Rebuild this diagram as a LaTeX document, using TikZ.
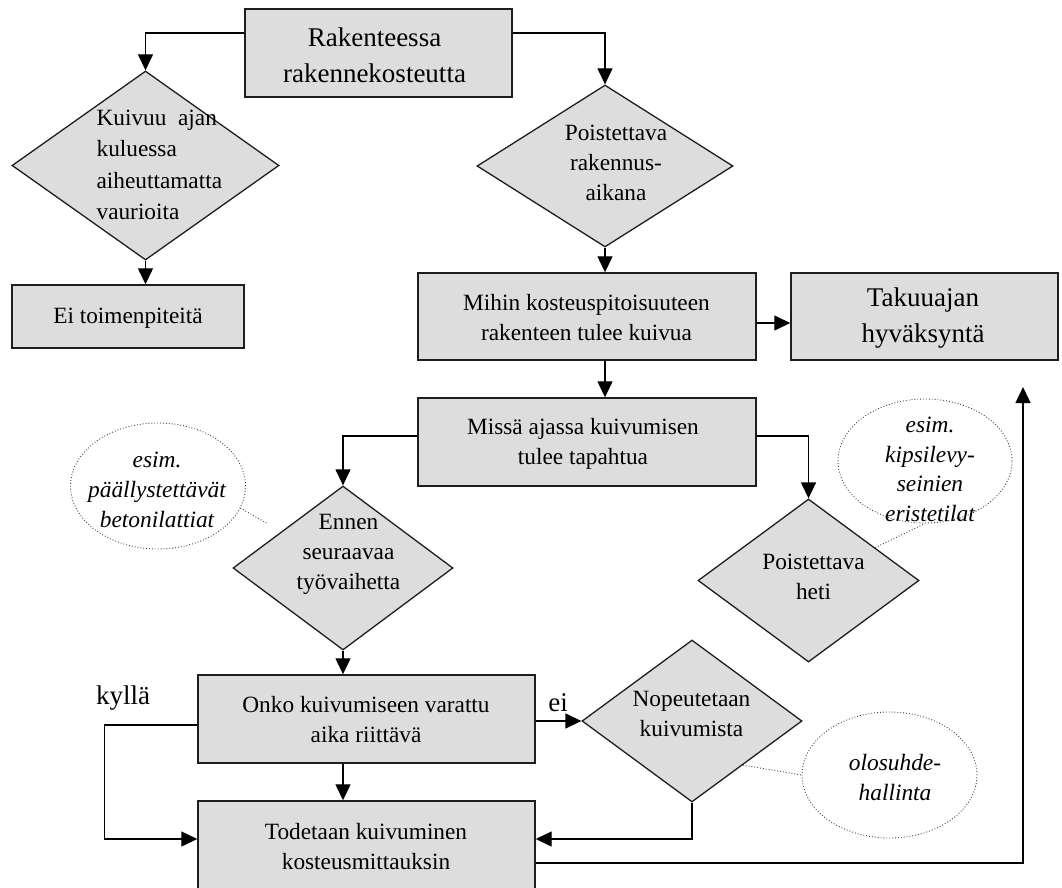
\documentclass[tikz,border=0pt]{standalone}
\usepackage{fontspec}
\setmainfont{Liberation Serif}
\usetikzlibrary{shapes.geometric,arrows.meta,calc}
\definecolor{boxfill}{RGB}{221,221,221}
\definecolor{edgecol}{RGB}{30,30,30}
\begin{document}
\begin{tikzpicture}[x=1pt,y=-1pt,
  box/.style={draw=edgecol, fill=boxfill, line width=1.4pt, rectangle, inner sep=0pt},
  dia/.style={draw=edgecol, fill=boxfill, line width=1.3pt, diamond, inner sep=0pt},
  ell/.style={draw=black!75, dotted, line width=0.9pt, ellipse, inner sep=0pt},
  txt/.style={align=center, inner sep=0pt, font=\fontsize{23.3}{30}\selectfont},
  bigtxt/.style={align=center, inner sep=0pt, font=\fontsize{27}{36}\selectfont},
  itx/.style={align=center, inner sep=0pt, font=\fontsize{23.4}{29.7}\selectfont\itshape},
  arr/.style={draw=black, line width=1.3pt, -{Triangle[length=16pt,width=15pt]}},
  note/.style={draw=black!75, dotted, line width=0.9pt}
]
\useasboundingbox (0,0) rectangle (1062,888);
\clip (0,0) rectangle (1062,888);

% boxes
\node[box, minimum width=267, minimum height=88] (top) at (378.5,53) {};
\node[bigtxt] (toptx) at (374.5,55) {Rakenteessa\\rakennekosteutta};
\node[box, minimum width=232, minimum height=63] (eit) at (128,316.5) {};
\node[txt] (eittx) at (128,318) {Ei toimenpiteitä};
\node[box, minimum width=338, minimum height=87] (mihin) at (587,316.5) {};
\node[txt] (mihintx) at (586.5,318) {Mihin kosteuspitoisuuteen\\rakenteen tulee kuivua};
\node[box, minimum width=267, minimum height=87] (taku) at (924.5,316.5) {};
\node[bigtxt] (takutx) at (923,318) {Takuuajan\\hyväksyntä};
\node[box, minimum width=338, minimum height=88] (missa) at (587,442) {};
\node[txt] (missatx) at (583,443.5) {Missä ajassa kuivumisen\\tulee tapahtua};
\node[box, minimum width=337, minimum height=88] (onko) at (366.5,719) {};
\node[txt] (onkotx) at (366,720) {Onko kuivumiseen varattu\\aika riittävä};
\node[box, minimum width=337, minimum height=96] (tod) at (366.5,849) {};
\node[txt] (todtx) at (366,847) {Todetaan kuivuminen\\kosteusmittauksin};

% diamonds
\node[dia, minimum width=267, minimum height=189] (d1) at (145.5,165.5) {};
\node[txt, align=left, anchor=west, font=\fontsize{23.3}{31.3}\selectfont] (d1tx) at (96.4,165) {Kuivuu\ \ ajan\\kuluessa\\aiheuttamatta\\vaurioita};
\node[dia, minimum width=256, minimum height=162] (d2) at (605,166) {};
\node[txt] (d2tx) at (616,163) {Poistettava\\rakennus-\\aikana};
\node[dia, minimum width=220, minimum height=164] (d3) at (343,568) {};
\node[txt] (d3tx) at (348.5,554) {Ennen\\seuraavaa\\työvaihetta};
\node[dia, minimum width=221, minimum height=163] (d4) at (808.5,580.5) {};
\node[txt] (d4tx) at (813.5,576.5) {Poistettava\\heti};
\node[dia, minimum width=220, minimum height=162] (d5) at (692,721) {};
\node[txt] (d5tx) at (691.5,713.5) {Nopeutetaan\\kuivumista};

% callouts
\node[ell, minimum width=175, minimum height=126] (c1) at (158,486) {};
\node[itx] (c1tx) at (157,490) {esim.\\päällystettävät\\betonilattiat};
\node[ell, minimum width=174, minimum height=124] (c2) at (925,461) {};
\node[itx] (c2tx) at (930,469.5) {esim.\\kipsilevy-\\seinien\\eristetilat};
\node[ell, minimum width=175, minimum height=126] (c3) at (889.5,775) {};
\node[itx] (c3tx) at (895,777.5) {olosuhde-\\hallinta};

% labels
\node[bigtxt] (kylla) at (123,698) {kyllä};
\node[bigtxt] (ei) at (558,703) {ei};

% connectors
\draw[arr] (top.west |- 0,33) -| (d1.north);
\draw[arr] (top.east |- 0,33) -| (d2.north);
\draw[arr] (d1.south) -- (d1.south |- eit.north);
\draw[arr] (d2.south) -- (d2.south |- mihin.north);
\draw[arr] (mihin.east |- 0,323) -- (taku.west |- 0,323);
\draw[arr] (d2.south |- mihin.south) -- (d2.south |- missa.north);
\draw[arr] (missa.west |- 0,436) -| (d3.north);
\draw[arr] (missa.east |- 0,436) -| (d4.north);
\draw[arr] (d3.south) -- (d3.south |- onko.north);
\draw[arr] (d3.south |- onko.south) -- (d3.south |- tod.north);
\draw[arr] (onko.west |- 0,725) -- ++(-93,0) |- (tod.west |- 0,839);
\draw[arr] (onko.east |- d5.west) -- (d5.west);
\draw[arr] (d5.south) |- (tod.east |- 0,839);
\coordinate (fin) at (1023,387);
\draw[arr] (tod.east |- 0,863) -| (fin);

% note lines
\coordinate (n1) at (268,524);
\draw[note] (c1.-15) -- (n1);
\draw[note] ($(d4.north)!0.6!(d4.east)$) -- (c2.south);
\draw[note] ($(d5.east)!0.54!(d5.south)$) -- (c3.west);
\end{tikzpicture}
\end{document}
